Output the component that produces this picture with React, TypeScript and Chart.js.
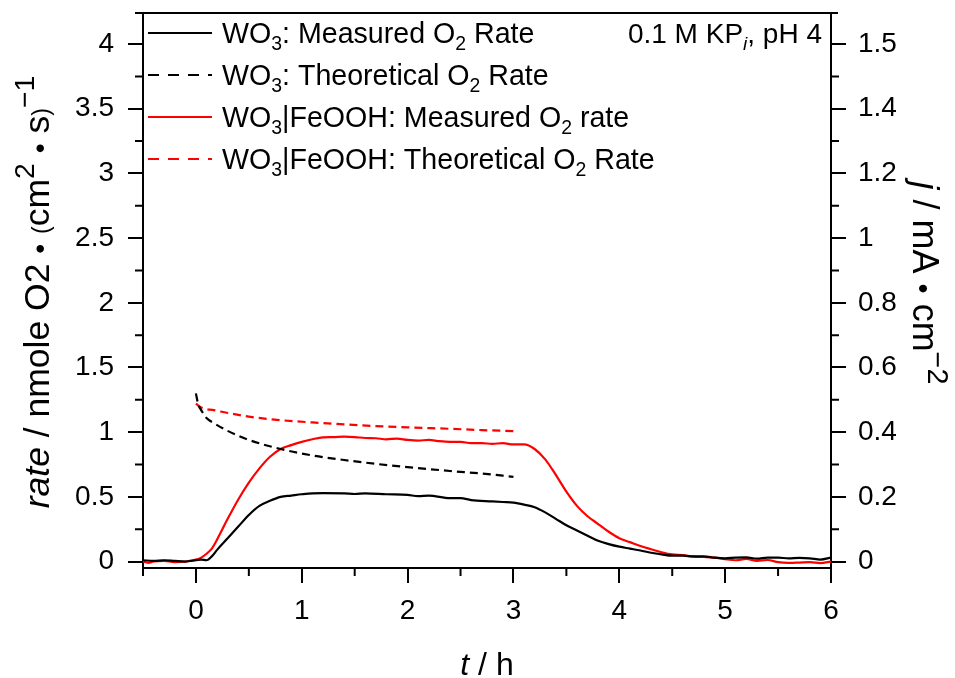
import React, { useEffect, useRef } from "react";
import { Chart, registerables } from "chart.js";

Chart.register(...registerables);

// ---------- data ----------
const wo3MeasuredT = [-0.5, -0.4, -0.3, -0.2, -0.1, 0.0, 0.05, 0.1, 0.15, 0.2, 0.3, 0.4, 0.5, 0.6, 0.7, 0.8, 0.9, 1.0, 1.1, 1.2, 1.4, 1.5, 1.6, 1.8, 2.0, 2.1, 2.2, 2.4, 2.5, 2.6, 2.8, 2.9, 3.0, 3.1, 3.2, 3.3, 3.4, 3.5, 3.6, 3.7, 3.8, 3.9, 4.0, 4.1, 4.2, 4.3, 4.4, 4.5, 4.6, 4.7, 4.8, 4.9, 5.0, 5.1, 5.2, 5.3, 5.4, 5.5, 5.6, 5.7, 5.8, 5.9, 6.0];
const wo3MeasuredRate = [0.01, 0.005, 0.01, 0.005, 0.0, 0.01, 0.015, 0.01, 0.04, 0.09, 0.18, 0.27, 0.36, 0.43, 0.47, 0.5, 0.51, 0.52, 0.527, 0.528, 0.527, 0.522, 0.527, 0.52, 0.515, 0.505, 0.51, 0.49, 0.49, 0.475, 0.465, 0.46, 0.455, 0.44, 0.42, 0.38, 0.33, 0.28, 0.24, 0.2, 0.16, 0.135, 0.115, 0.1, 0.085, 0.068, 0.055, 0.045, 0.045, 0.04, 0.04, 0.03, 0.025, 0.03, 0.032, 0.022, 0.03, 0.03, 0.025, 0.028, 0.025, 0.015, 0.03];

const wo3TheoryT = [0.0, 0.02, 0.05, 0.1, 0.17, 0.3, 0.5, 0.8, 1.1, 1.4, 1.7, 2.0, 2.4, 2.7, 3.0];
const wo3TheoryRate = [1.3, 1.22, 1.17, 1.11, 1.07, 1.01, 0.94, 0.87, 0.82, 0.785, 0.755, 0.73, 0.7, 0.68, 0.655];

const feoohMeasuredT = [-0.5, -0.45, -0.4, -0.3, -0.2, -0.1, 0.0, 0.05, 0.1, 0.15, 0.2, 0.3, 0.4, 0.5, 0.6, 0.7, 0.8, 0.9, 1.0, 1.1, 1.2, 1.3, 1.4, 1.5, 1.6, 1.7, 1.8, 1.9, 2.0, 2.1, 2.2, 2.3, 2.4, 2.5, 2.6, 2.7, 2.8, 2.9, 3.0, 3.1, 3.2, 3.3, 3.4, 3.5, 3.6, 3.7, 3.8, 3.9, 4.0, 4.1, 4.2, 4.3, 4.4, 4.5, 4.6, 4.7, 4.8, 4.9, 5.0, 5.1, 5.2, 5.3, 5.4, 5.5, 5.6, 5.7, 5.8, 5.9, 6.0];
const feoohMeasuredRate = [0.0, -0.01, 0.0, 0.005, -0.005, 0.0, 0.015, 0.03, 0.06, 0.1, 0.17, 0.33, 0.48, 0.61, 0.72, 0.81, 0.87, 0.9, 0.925, 0.945, 0.96, 0.962, 0.965, 0.962, 0.955, 0.953, 0.945, 0.95, 0.94, 0.935, 0.94, 0.93, 0.925, 0.925, 0.915, 0.915, 0.91, 0.915, 0.905, 0.905, 0.87, 0.79, 0.67, 0.54, 0.43, 0.35, 0.29, 0.23, 0.18, 0.15, 0.12, 0.095, 0.072, 0.055, 0.05, 0.038, 0.035, 0.03, 0.018, 0.01, 0.02, 0.005, 0.012, -0.005, -0.01, -0.008, -0.005, -0.012, 0.0];

const feoohTheoryT = [0.0, 0.05, 0.17, 0.5, 0.8, 1.1, 1.4, 1.7, 2.0, 2.4, 2.7, 3.0];
const feoohTheoryRate = [1.22, 1.19, 1.17, 1.12, 1.093, 1.075, 1.06, 1.047, 1.037, 1.026, 1.016, 1.008];

const seriesLabels = [
  "WO_3: Measured O_2 Rate",
  "WO_3: Theoretical O_2 Rate",
  "WO_3|FeOOH: Measured O_2 rate",
  "WO_3|FeOOH: Theoretical O_2 Rate",
];
const seriesColors = ["#000000", "#000000", "#ff0000", "#ff0000"];
const seriesDashed = [false, true, false, true];

const xTicks = [0, 1, 2, 3, 4, 5, 6];
const leftTicks = [0, 0.5, 1, 1.5, 2, 2.5, 3, 3.5, 4];
const leftTickLabels = ["0", "0.5", "1", "1.5", "2", "2.5", "3", "3.5", "4"];
const rightTicks = [0, 0.2, 0.4, 0.6, 0.8, 1.0, 1.2, 1.4, 1.6];
const rightTickLabels = ["0", "0.2", "0.4", "0.6", "0.8", "1", "1.2", "1.4", "1.5"];
const xMinorTicks = [-0.5, 0.5, 1.5, 2.5, 3.5, 4.5, 5.5];
const leftMinorTicks = [0.25, 0.75, 1.25, 1.75, 2.25, 2.75, 3.25, 3.75];
const rightMinorTicks = [0.1, 0.3, 0.5, 0.7, 0.9, 1.1, 1.3, 1.5];

const annotationText = "0.1 M KP_i, pH 4";

// ---------- rich text ----------
const FAM = '"Liberation Sans", Arial, Helvetica, sans-serif';
type Seg = { t: string; it?: boolean; sub?: boolean; sup?: boolean; sc?: number };

function segSize(s: Seg, base: number) {
  if (s.sc) return base * s.sc;
  if (s.sub || s.sup) return base * 0.68;
  return base;
}
function segFont(s: Seg, base: number) {
  return `${s.it ? "italic " : ""}${segSize(s, base)}px ${FAM}`;
}
function richWidth(ctx: CanvasRenderingContext2D, segs: Seg[], base: number) {
  let w = 0;
  for (const s of segs) {
    ctx.font = segFont(s, base);
    w += ctx.measureText(s.t).width;
  }
  return w;
}
function drawRich(ctx: CanvasRenderingContext2D, segs: Seg[], x: number, y: number, base: number, align: string) {
  const w = richWidth(ctx, segs, base);
  let cx = align === "center" ? x - w / 2 : align === "right" ? x - w : x;
  ctx.textBaseline = "alphabetic";
  ctx.textAlign = "left";
  for (const s of segs) {
    ctx.font = segFont(s, base);
    const dy = s.sub ? base * 0.24 : s.sup ? -base * 0.42 : 0;
    ctx.fillText(s.t, cx, y + dy);
    cx += ctx.measureText(s.t).width;
  }
}
function parseMarkup(str: string, italicSub = false): Seg[] {
  const out: Seg[] = [];
  const parts = str.split(/(_.)/);
  for (const p of parts) {
    if (!p) continue;
    if (p.startsWith("_")) out.push({ t: p.slice(1), sub: true, it: italicSub && /[a-z]/.test(p.slice(1)) });
    else out.push({ t: p });
  }
  return out;
}

const leftTitle: Seg[] = [
  { t: "rate", it: true },
  { t: " / nmole O2 " },
  { t: "•", sc: 0.8 },
  { t: " " },
  { t: "(", sc: 0.65 },
  { t: "cm" },
  { t: "2", sup: true, sc: 0.8 },
  { t: " " },
  { t: "•", sc: 0.8 },
  { t: " s" },
  { t: ")", sc: 0.65 },
  { t: "−1", sup: true, sc: 0.8 },
];
const rightTitle: Seg[] = [
  { t: "j", it: true },
  { t: " / mA " },
  { t: "•", sc: 0.8 },
  { t: " cm" },
  { t: "−2", sup: true, sc: 0.8 },
];
const bottomTitle: Seg[] = [{ t: "t", it: true }, { t: " / h" }];

const decorPlugin = {
  id: "decor",
  afterDraw(chart: any) {
    const ctx: CanvasRenderingContext2D = chart.ctx;
    const { x, y, y2 } = chart.scales;
    const area = chart.chartArea;
    ctx.save();
    ctx.strokeStyle = "#000";
    ctx.fillStyle = "#000";
    ctx.lineWidth = 2;
    // top frame
    ctx.beginPath();
    ctx.moveTo(area.left - 8, area.top);
    ctx.lineTo(area.right + 7, area.top);
    ctx.stroke();
    // minor ticks
    ctx.beginPath();
    for (const v of xMinorTicks) {
      const px = x.getPixelForValue(v);
      ctx.moveTo(px, area.bottom);
      ctx.lineTo(px, area.bottom + 8);
    }
    for (const v of leftMinorTicks) {
      const py = y.getPixelForValue(v);
      ctx.moveTo(area.left, py);
      ctx.lineTo(area.left - 8, py);
    }
    for (const v of rightMinorTicks) {
      const py = y2.getPixelForValue(v);
      ctx.moveTo(area.right, py);
      ctx.lineTo(area.right + 8, py);
    }
    ctx.stroke();

    // legend
    const rowY = [33, 75, 117, 159];
    seriesLabels.forEach((lab, i) => {
      ctx.save();
      ctx.strokeStyle = seriesColors[i];
      ctx.lineWidth = 2;
      ctx.setLineDash(seriesDashed[i] ? [11, 9] : []);
      ctx.beginPath();
      ctx.moveTo(148, rowY[i]);
      ctx.lineTo(212, rowY[i]);
      ctx.stroke();
      ctx.restore();
      ctx.fillStyle = "#000";
      drawRich(ctx, parseMarkup(lab), 222, rowY[i] + 10, 28.6, "left");
    });

    // annotation
    drawRich(ctx, parseMarkup(annotationText, true), 822, 43, 28, "right");

    // axis titles
    drawRich(ctx, bottomTitle, 487, 675, 32, "center");
    ctx.save();
    ctx.translate(49, 292);
    ctx.rotate(-Math.PI / 2);
    drawRich(ctx, leftTitle, 0, 0, 35.5, "center");
    ctx.restore();
    ctx.save();
    ctx.translate(913, 283);
    ctx.rotate(Math.PI / 2);
    drawRich(ctx, rightTitle, 0, 0, 36, "center");
    ctx.restore();
    ctx.restore();
  },
};

function toPoints(t: number[], v: number[]) {
  return t.map((tt, i) => ({ x: tt, y: v[i] }));
}

export default function App() {
  const ref = useRef<HTMLCanvasElement | null>(null);
  useEffect(() => {
    if (!ref.current) return;
    const seriesData = [
      toPoints(wo3MeasuredT, wo3MeasuredRate),
      toPoints(wo3TheoryT, wo3TheoryRate),
      toPoints(feoohMeasuredT, feoohMeasuredRate),
      toPoints(feoohTheoryT, feoohTheoryRate),
    ];
    const tickFont = { family: FAM, size: 28 };
    const gridOpts = {
      display: true,
      drawOnChartArea: false,
      drawTicks: true,
      tickLength: 15,
      color: "#000",
      lineWidth: 2,
    };
    const chart = new Chart(ref.current, {
      type: "line",
      data: {
        datasets: seriesData.map((d, i) => ({
          label: seriesLabels[i].replace(/_/g, ""),
          data: d,
          borderColor: seriesColors[i],
          backgroundColor: seriesColors[i],
          borderWidth: 2.2,
          borderDash: seriesDashed[i] ? [8, 5] : [],
          pointRadius: 0,
          cubicInterpolationMode: "monotone",
          fill: false,
          yAxisID: "y",
        })),
      },
      options: {
        animation: false,
        responsive: false,
        devicePixelRatio: 1,
        layout: { padding: { top: 13, left: 0, right: 0, bottom: 0 } },
        plugins: { legend: { display: false }, tooltip: { enabled: false } },
        scales: {
          x: {
            type: "linear",
            min: -0.5,
            max: 6,
            grid: gridOpts,
            border: { display: true, color: "#000", width: 2 },
            afterBuildTicks: (s: any) => {
              s.ticks = xTicks.map((v) => ({ value: v }));
            },
            afterFit: (s: any) => {
              s.height = 110;
              s.paddingLeft = 0;
              s.paddingRight = 0;
            },
            ticks: {
              color: "#000",
              font: tickFont,
              padding: 11,
              maxRotation: 0,
              autoSkip: false,
              callback: (v: any, i: number) => String(xTicks[i]),
            },
          },
          y: {
            type: "linear",
            position: "left",
            min: -0.05,
            max: 4.24,
            grid: gridOpts,
            border: { display: true, color: "#000", width: 2 },
            afterBuildTicks: (s: any) => {
              s.ticks = leftTicks.map((v) => ({ value: v }));
            },
            afterFit: (s: any) => {
              s.width = 143;
              s.paddingTop = 0;
              s.paddingBottom = 0;
            },
            ticks: {
              color: "#000",
              font: tickFont,
              padding: 14,
              callback: (v: any, i: number) => leftTickLabels[i],
            },
          },
          y2: {
            type: "linear",
            position: "right",
            min: -0.02,
            max: 1.696,
            grid: gridOpts,
            border: { display: true, color: "#000", width: 2 },
            afterBuildTicks: (s: any) => {
              s.ticks = rightTicks.map((v) => ({ value: v }));
            },
            afterFit: (s: any) => {
              s.width = 124;
              s.paddingTop = 0;
              s.paddingBottom = 0;
            },
            ticks: {
              color: "#000",
              font: tickFont,
              padding: 12,
              callback: (v: any, i: number) => rightTickLabels[i],
            },
          },
        },
      },
      plugins: [decorPlugin],
    } as any);
    return () => chart.destroy();
  }, []);
  return (
    <div style={{ position: "fixed", left: 0, top: 0, width: 955, height: 678, background: "#fff" }}>
      <canvas ref={ref} width={955} height={678} style={{ display: "block" }} />
    </div>
  );
}
